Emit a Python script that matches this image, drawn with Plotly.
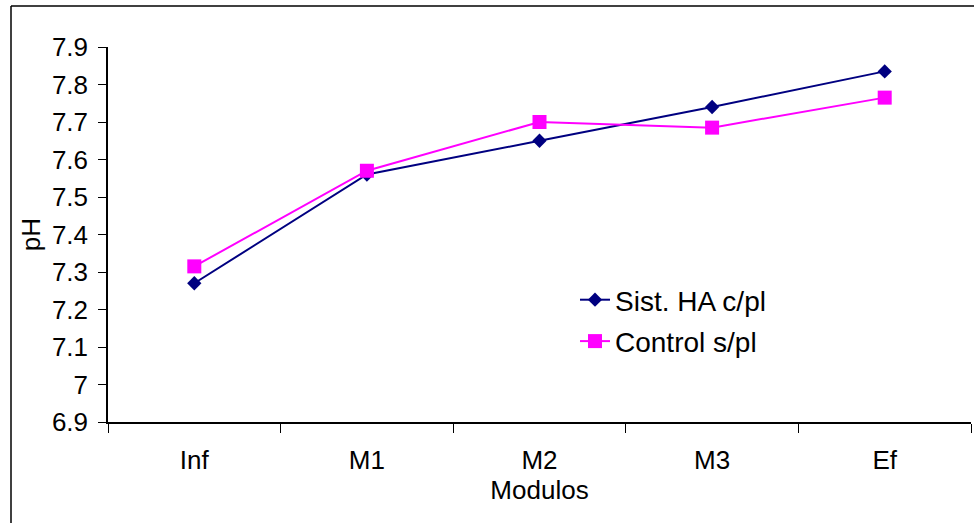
import plotly.graph_objects as go

# pH along the treatment modules
modulos = ["Inf", "M1", "M2", "M3", "Ef"]
ph_sist_ha = [7.27, 7.56, 7.65, 7.74, 7.835]
ph_control = [7.315, 7.57, 7.70, 7.685, 7.765]
y_ticks = [6.9, 7.0, 7.1, 7.2, 7.3, 7.4, 7.5, 7.6, 7.7, 7.8, 7.9]
y_tick_text = ["6.9", "7", "7.1", "7.2", "7.3", "7.4", "7.5", "7.6", "7.7", "7.8", "7.9"]

W, H = 974, 523
L, R, T, B = 108, 3, 47, 101
plot_w = W - L - R
plot_h = H - T - B


def px_x(p):
    return (p - L) / plot_w


def px_y(p):
    return (H - B - p) / plot_h


FONT = "Liberation Sans, Arial, sans-serif"

fig = go.Figure()
fig.add_trace(go.Scatter(
    x=modulos, y=ph_sist_ha, name="Sist. HA c/pl", mode="lines+markers",
    line=dict(color="#000080", width=2),
    marker=dict(symbol="diamond", size=11, color="#000080"),
    legendgroup="a",
))
fig.add_trace(go.Scatter(
    x=modulos, y=ph_control, name="Control s/pl", mode="lines+markers",
    line=dict(color="#FF00FF", width=2),
    marker=dict(symbol="square", size=14, color="#FF00FF"),
    legendgroup="b",
))

fig.update_layout(
    width=W, height=H,
    margin=dict(l=L, r=R, t=T, b=B, pad=0),
    paper_bgcolor="white", plot_bgcolor="white",
    font=dict(family=FONT, size=26, color="black"),
    showlegend=True,
    legend=dict(
        x=px_x(575), y=px_y(275), xanchor="left", yanchor="top",
        bgcolor="rgba(0,0,0,0)", font=dict(size=28),
        tracegroupgap=2,
    ),
    shapes=[
        dict(type="line", xref="paper", yref="paper",
             x0=px_x(11), x1=px_x(W + 5), y0=px_y(6), y1=px_y(6),
             line=dict(color="black", width=1.5)),
        dict(type="line", xref="paper", yref="paper",
             x0=px_x(11), x1=px_x(11), y0=px_y(6), y1=px_y(H + 5),
             line=dict(color="black", width=1.5)),
    ],
)

fig.update_xaxes(
    type="category", categoryorder="array", categoryarray=modulos,
    range=[-0.5, len(modulos) - 0.5],
    showline=True, linecolor="black", linewidth=1.5,
    ticks="outside", tickson="boundaries", ticklen=9, tickcolor="black",
    showgrid=False, zeroline=False,
    ticklabelstandoff=14,
    title=dict(text="Modulos", font=dict(size=26), standoff=5),
)
fig.update_yaxes(
    range=[6.9, 7.9], tickvals=y_ticks, ticktext=y_tick_text,
    showline=True, linecolor="black", linewidth=1.5,
    ticks="outside", ticklen=8, tickcolor="black",
    showgrid=False, zeroline=False,
    ticklabelstandoff=5,
    title=dict(text="pH", font=dict(size=26), standoff=4),
)

fig.write_html("out.html")
